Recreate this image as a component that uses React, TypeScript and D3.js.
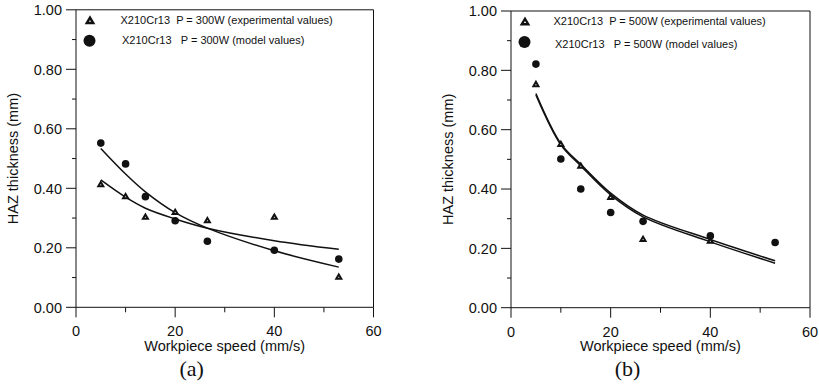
import React from "react";
import * as d3 from "d3";

// ---- data ----
const speeds = [5, 10, 14, 20, 26.5, 40, 53];
const expA = [0.414, 0.374, 0.305, 0.321, 0.293, 0.305, 0.103];
const modelA = [0.552, 0.482, 0.372, 0.291, 0.222, 0.192, 0.162];
const expB: (number | null)[] = [0.754, 0.552, 0.479, 0.374, 0.232, 0.226, null];
const modelB = [0.821, 0.501, 0.4, 0.321, 0.291, 0.242, 0.22];

const fitSpeeds = [5, 10, 14, 20, 26.5, 40, 53];
const fitExpA = [0.428, 0.37, 0.333, 0.297, 0.266, 0.224, 0.195];
const fitModelA = [0.534, 0.448, 0.388, 0.318, 0.266, 0.19, 0.135];
const fitExpB = [0.722, 0.553, 0.483, 0.386, 0.312, 0.23, 0.158];
const fitModelB = [0.717, 0.549, 0.478, 0.38, 0.306, 0.222, 0.15];

const xMajorTicks = [0, 20, 40, 60];
const xMinorTicks = [10, 30, 50];
const yMajorTicks = [0, 0.2, 0.4, 0.6, 0.8, 1.0];
const yMinorTicks = [0.1, 0.3, 0.5, 0.7, 0.9];

const legendA = ["X210Cr13  P = 300W (experimental values)", "X210Cr13   P = 300W (model values)"];
const legendB = ["X210Cr13  P = 500W (experimental values)", "X210Cr13   P = 500W (model values)"];

const SANS = "'Liberation Sans', Arial, sans-serif";
const SERIF = "'Liberation Serif', 'Times New Roman', serif";
const INK = "#111";

function tri(cx: number, cy: number, w: number, h: number) {
  return `M${cx},${cy - h / 2}L${cx + w / 2},${cy + h / 2}L${cx - w / 2},${cy + h / 2}Z`;
}

type PanelProps = {
  left: number; right: number; top: number; bottom: number;
  exp: (number | null)[]; model: number[]; fitExp: number[]; fitModel: number[];
  legend: string[]; label: string; legendDx: number;
};

function Panel(p: PanelProps) {
  const x = d3.scaleLinear().domain([0, 60]).range([p.left, p.right]);
  const y = d3.scaleLinear().domain([0, 1]).range([p.bottom, p.top]);
  const line = d3.line<[number, number]>().x(d => x(d[0])).y(d => y(d[1])).curve(d3.curveCatmullRom.alpha(0.5));
  const mid = (p.left + p.right) / 2;
  return (
    <g>
      {/* frame */}
      <path d={`M${p.left},${p.bottom}V${p.top}H${p.right}V${p.bottom}H${p.left}`} fill="none" stroke={INK} strokeWidth={1} />
      {/* y ticks */}
      {yMajorTicks.map(t => (
        <g key={"ym" + t}>
          <line x1={p.left - 10} x2={p.left} y1={y(t)} y2={y(t)} stroke={INK} />
          <text x={p.left - 14} y={y(t)} dy="0.36em" textAnchor="end" fontFamily={SANS} fontSize={14.5} fill={INK}>{t.toFixed(2)}</text>
        </g>
      ))}
      {yMinorTicks.map(t => (
        <line key={"yn" + t} x1={p.left - 4} x2={p.left} y1={y(t)} y2={y(t)} stroke={INK} />
      ))}
      {/* x ticks */}
      {xMajorTicks.map(t => (
        <g key={"xm" + t}>
          <line x1={x(t)} x2={x(t)} y1={p.bottom} y2={p.bottom + 10} stroke={INK} />
          <text x={x(t)} y={p.bottom + 29} textAnchor="middle" fontFamily={SANS} fontSize={14.5} fill={INK}>{t}</text>
        </g>
      ))}
      {xMinorTicks.map(t => (
        <line key={"xn" + t} x1={x(t)} x2={x(t)} y1={p.bottom} y2={p.bottom + 5} stroke={INK} />
      ))}
      {/* titles */}
      <text x={mid} y={p.bottom + 43.5} textAnchor="middle" fontFamily={SANS} fontSize={14.5} fill={INK}>Workpiece speed (mm/s)</text>
      <text transform={`translate(${p.left - 58},${(p.top + p.bottom) / 2}) rotate(-90)`} textAnchor="middle" fontFamily={SANS} fontSize={14.5} fill={INK}>HAZ thickness (mm)</text>
      <text x={mid - 33} y={376} textAnchor="middle" fontFamily={SERIF} fontSize={22} fill={INK}>{p.label}</text>
      {/* fits */}
      <path d={line(fitSpeeds.map((s, i) => [s, p.fitExp[i]] as [number, number])) || ""} fill="none" stroke={INK} strokeWidth={1.5} />
      <path d={line(fitSpeeds.map((s, i) => [s, p.fitModel[i]] as [number, number])) || ""} fill="none" stroke={INK} strokeWidth={1.5} />
      {/* markers */}
      {speeds.map((s, i) => p.exp[i] == null ? null : (
        <path key={"t" + i} d={tri(x(s), y(p.exp[i] as number), 5, 4.3)} fill="#fff" stroke={INK} strokeWidth={2} strokeLinejoin="miter" />
      ))}
      {speeds.map((s, i) => (
        <circle key={"c" + i} cx={x(s)} cy={y(p.model[i])} r={3.8} fill={INK} />
      ))}
      {/* legend */}
      <path d={tri(p.left + 14, p.top + 10.5, 6.5, 5.5)} fill="#fff" stroke={INK} strokeWidth={2.4} />
      <circle cx={p.left + 13.5} cy={p.top + 31} r={6} fill={INK} />
      <text x={p.left + 44.5 + p.legendDx} y={p.top + 14} fontFamily={SANS} fontSize={11} fill={INK} style={{ whiteSpace: "pre" }}>{p.legend[0]}</text>
      <text x={p.left + 44.5 + p.legendDx + 1.5} y={p.top + 34.5 - p.legendDx * 1.2} fontFamily={SANS} fontSize={11} fill={INK} style={{ whiteSpace: "pre" }}>{p.legend[1]}</text>
    </g>
  );
}

export default function App() {
  return (
    <svg width={819} height={389} style={{ position: "absolute", left: 0, top: 0, background: "#fff" }}>
      <rect width={819} height={389} fill="#fff" />
      <Panel left={76} right={373.5} top={9.8} bottom={307.3} exp={expA} model={modelA} fitExp={fitExpA} fitModel={fitModelA} legend={legendA} label="(a)" legendDx={0} />
      <Panel left={511} right={810} top={11} bottom={307.7} exp={expB} model={modelB} fitExp={fitExpB} fitModel={fitModelB} legend={legendB} label="(b)" legendDx={-2} />
    </svg>
  );
}
